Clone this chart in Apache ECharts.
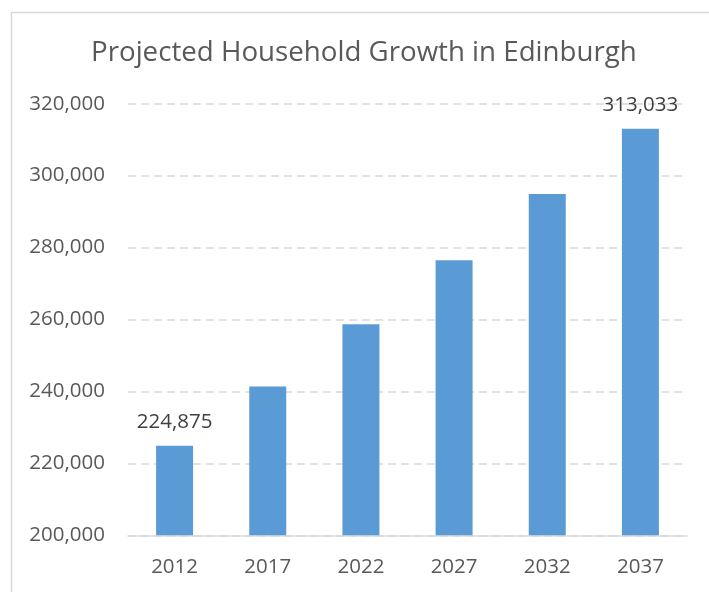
<!DOCTYPE html>
<html><head><meta charset="utf-8">
<script src="https://cdn.jsdelivr.net/npm/echarts@6/dist/echarts.min.js"></script>
<style>html,body{margin:0;padding:0;background:#fff}#c{width:709px;height:592px}</style>
</head><body><div id="c"></div>
<script>
const titleText = 'Projected Household Growth in Edinburgh';
const years = ['2012', '2017', '2022', '2027', '2032', '2037'];
const households = [224875, 241350, 258700, 276500, 294900, 313033];
const labelledIndexes = [0, 5];
const yMin = 200000, yMax = 320000, yStep = 20000;

const fontFam = '"Open Sans", "Noto Sans", sans-serif';
const chart = echarts.init(document.getElementById('c'), null, {renderer: 'canvas'});
const fmt = v => v.toLocaleString('en-US');
chart.setOption({
  animation: false,
  backgroundColor: '#fff',
  graphic: [{
    type: 'rect', left: 9, top: 10, shape: {width: 720, height: 600},
    style: {fill: 'none', stroke: '#d9d9d9', lineWidth: 1.5}, silent: true
  }],
  title: {
    text: titleText, left: 86, top: 34,
    textStyle: {fontFamily: fontFam, fontSize: 27.7, fontWeight: 'normal', color: '#595959'}
  },
  grid: {left: 128, right: 22, top: 103.7, bottom: 56.7, containLabel: false},
  xAxis: {
    type: 'category', data: years,
    axisLine: {show: true, lineStyle: {color: '#d9d9d9', width: 1.5}},
    axisTick: {show: false},
    axisLabel: {fontFamily: fontFam, fontSize: 20.5, color: '#595959', margin: 21}
  },
  yAxis: {
    type: 'value', min: yMin, max: yMax, interval: yStep,
    axisLine: {show: false}, axisTick: {show: false},
    axisLabel: {fontFamily: fontFam, fontSize: 20.5, color: '#595959', margin: 23, formatter: fmt},
    splitLine: {lineStyle: {color: '#d9d9d9', width: 1.5, type: [8, 5]}}
  },
  series: [{
    type: 'bar', barWidth: 37,
    itemStyle: {color: '#5b9bd5'},
    data: households.map((v, i) => ({
      value: v,
      label: {show: labelledIndexes.includes(i), position: 'top', distance: 13,
        fontFamily: fontFam, fontSize: 20.5, color: '#404040', formatter: p => fmt(p.value)}
    }))
  }]
});
</script></body></html>
